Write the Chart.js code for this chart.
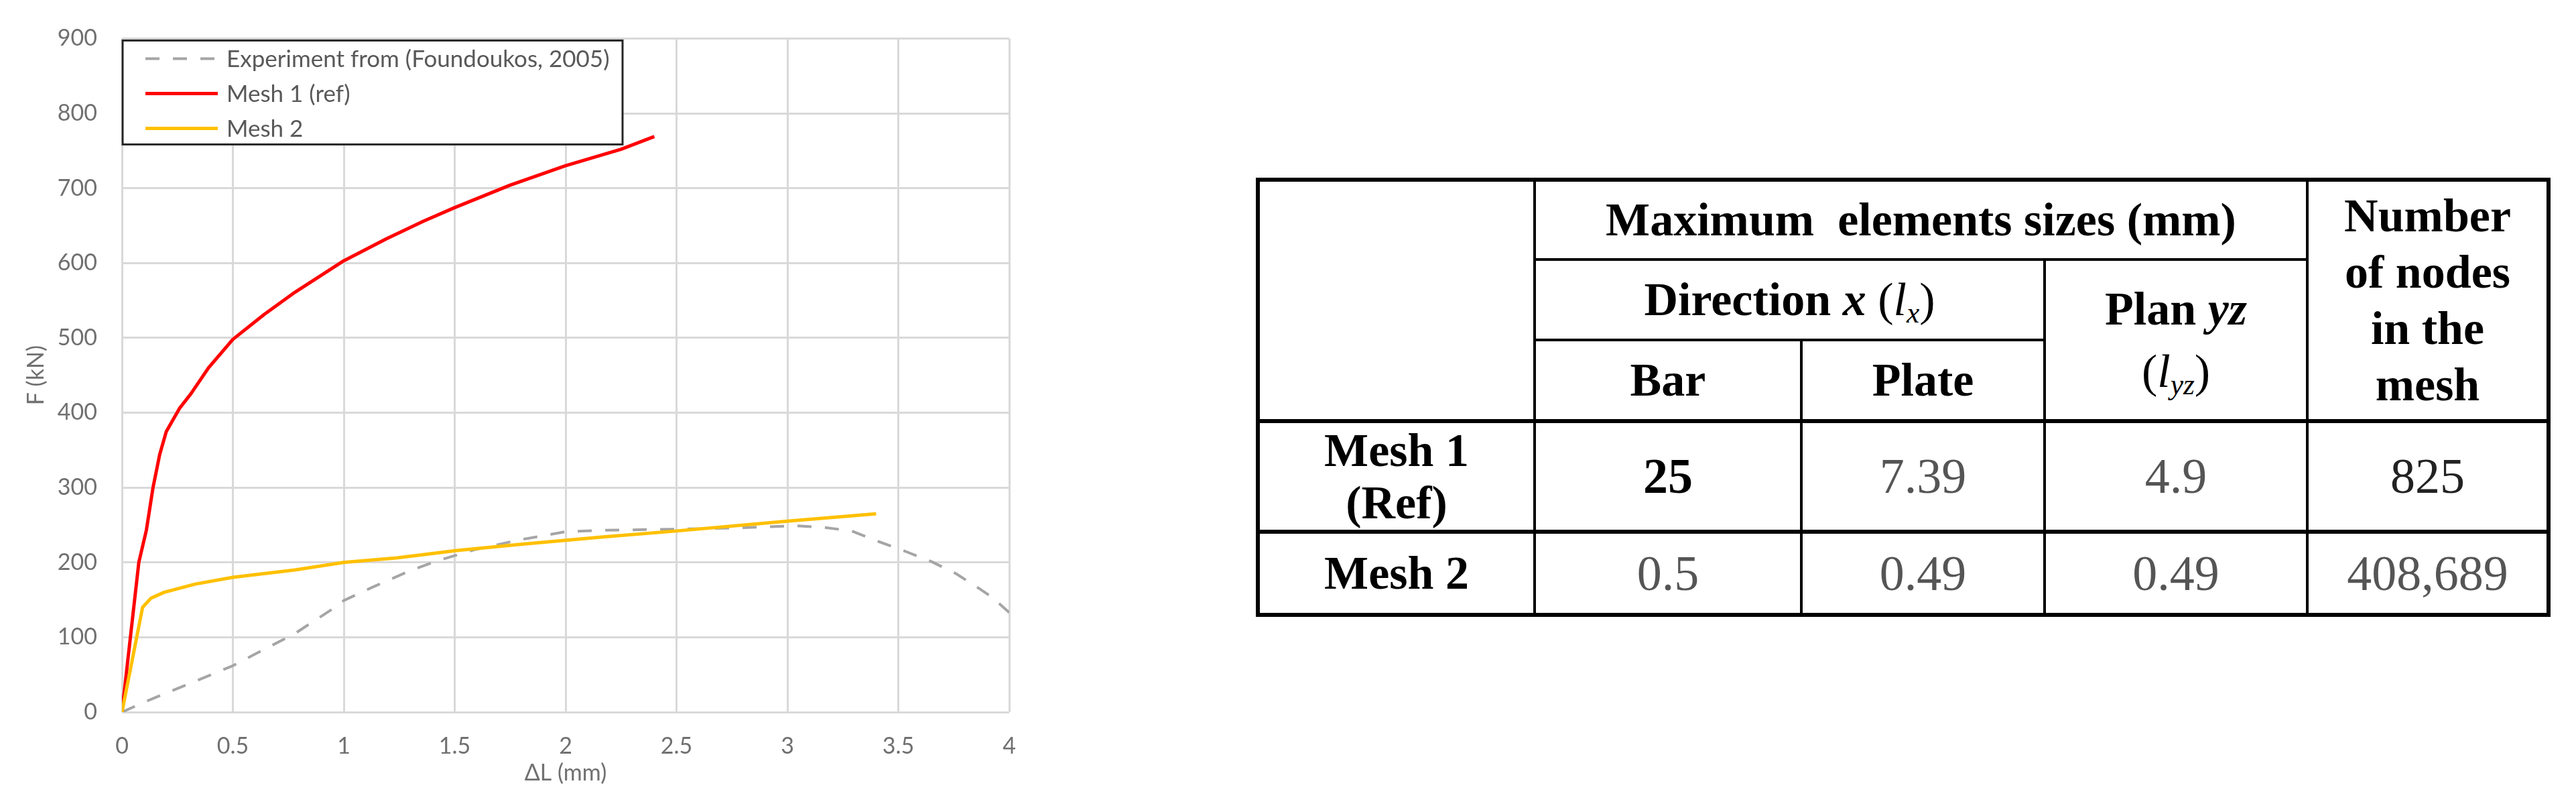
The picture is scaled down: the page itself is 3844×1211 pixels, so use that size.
<!DOCTYPE html>
<html>
<head>
<meta charset="utf-8">
<script src="https://cdn.jsdelivr.net/npm/chart.js@4/dist/chart.umd.min.js"></script>
<style>
  html, body { margin: 0; padding: 0; background: #ffffff; width: 3844px; height: 1211px; overflow: hidden; }
  #chartWrap { position: absolute; left: 0; top: 0; width: 1560px; height: 1211px; }
  #tbl { position: absolute; left: 1874px; top: 265px; width: 1932px; border-collapse: collapse; table-layout: fixed;
         font-family: "Liberation Serif", "Times New Roman", serif; color: #000; border: 6px solid #000; }
  #tbl td { border: 4px solid #000; text-align: center; vertical-align: middle; padding: 0; line-height: 1.2; }
  #tbl .h { font-weight: bold; font-size: 70px; }
  #tbl .v { font-size: 74px; color: #555; }
  #tbl .thickB td, #tbl td.thickB { border-bottom-width: 6px; }
  #tbl i.m { font-style: italic; }
  #tbl .thin { font-weight: normal; }
  #tbl sub { font-size: 0.62em; vertical-align: -0.25em; line-height: 0; }
</style>
</head>
<body>
<div id="chartWrap"><canvas id="c" width="1560" height="1211"></canvas></div>

<table id="tbl">
  <colgroup>
    <col style="width:413px"><col style="width:398px"><col style="width:363px"><col style="width:392px"><col style="width:360px">
  </colgroup>
  <tr style="height:119px">
    <td rowspan="3" class="thickB"></td>
    <td colspan="3" class="h">Maximum&nbsp; elements sizes (mm)</td>
    <td rowspan="3" class="h thickB" style="line-height:84px">Number<br>of nodes<br>in the<br>mesh</td>
  </tr>
  <tr style="height:120px">
    <td colspan="2" class="h">Direction <i class="m">x</i> <span class="thin">(<i class="m">l</i><sub><i class="m">x</i></sub>)</span></td>
    <td rowspan="2" class="h thickB" style="line-height:93px">Plan <i class="m">yz</i><br><span class="thin">(<i class="m">l</i><sub><i class="m">yz</i></sub>)</span></td>
  </tr>
  <tr style="height:121px" class="thickB">
    <td class="h">Bar</td>
    <td class="h">Plate</td>
  </tr>
  <tr style="height:165px" class="thickB">
    <td class="h" style="line-height:78px">Mesh 1<br>(Ref)</td>
    <td class="v" style="font-weight:bold;color:#000">25</td>
    <td class="v">7.39</td>
    <td class="v">4.9</td>
    <td class="v" style="color:#222">825</td>
  </tr>
  <tr style="height:124px">
    <td class="h">Mesh 2</td>
    <td class="v">0.5</td>
    <td class="v">0.49</td>
    <td class="v">0.49</td>
    <td class="v">408,689</td>
  </tr>
</table>

<script>
// ---- Data ----
const seriesNames = ["Experiment from (Foundoukos, 2005)", "Mesh 1 (ref)", "Mesh 2"];

const expX  = [0, 0.13, 0.37, 0.5, 0.61, 0.78, 0.95, 1.0, 1.13, 1.3, 1.42, 1.59, 1.79, 2.0, 2.17, 2.41, 2.77, 3.03, 3.16, 3.29, 3.41, 3.53, 3.65, 3.76, 3.86, 3.92, 4.0];
const expF  = [0, 17, 46, 62, 79, 105, 138, 149, 167, 189, 202, 217, 230, 241, 243, 244, 246, 249, 247, 242, 228, 215, 201, 185, 166, 154, 133];

const mesh1X = [0, 0.076, 0.11, 0.14, 0.17, 0.2, 0.26, 0.31, 0.39, 0.5, 0.64, 0.78, 1.0, 1.19, 1.36, 1.5, 1.75, 2.0, 2.25, 2.4];
const mesh1F = [0, 200, 243, 300, 344, 375, 406, 425, 460, 498, 531, 561, 603, 632, 656, 674, 704, 730, 752, 769];

const mesh2X = [0, 0.093, 0.13, 0.19, 0.33, 0.5, 0.78, 1.0, 1.24, 1.51, 1.79, 2.17, 2.5, 3.0, 3.4];
const mesh2F = [0, 140, 152, 160, 171, 180, 190, 200, 206, 216, 224, 234, 242, 255, 265];

const xTicks = [0, 0.5, 1, 1.5, 2, 2.5, 3, 3.5, 4];
const yTicks = [0, 100, 200, 300, 400, 500, 600, 700, 800, 900];
const xTitle = "ΔL (mm)";
const yTitle = "F (kN)";

// ---- Build ----
const pairs = (xs, ys) => xs.map((x, i) => ({ x: x, y: ys[i] }));

const boxLegend = {
  id: 'boxLegend',
  afterDraw(chart) {
    const { ctx, chartArea } = chart;
    const x0 = chartArea.left + 1, y0 = chartArea.top + 3, w = 746, h = 155;
    ctx.save();
    ctx.fillStyle = '#ffffff';
    ctx.fillRect(x0, y0, w, h);
    ctx.lineWidth = 3;
    ctx.strokeStyle = '#262626';
    ctx.strokeRect(x0, y0, w, h);
    chart.data.datasets.forEach((ds, i) => {
      const cy = y0 + 27 + i * 52;
      ctx.beginPath();
      ctx.setLineDash(ds.borderDash || []);
      ctx.lineWidth = ds.borderWidth;
      ctx.strokeStyle = ds.borderColor;
      ctx.moveTo(x0 + 34, cy);
      ctx.lineTo(x0 + 142, cy);
      ctx.stroke();
      ctx.setLineDash([]);
      ctx.fillStyle = '#595959';
      ctx.font = '35px Lato';
      ctx.textBaseline = 'middle';
      ctx.textAlign = 'left';
      ctx.fillText(ds.label, x0 + 155, cy + 1);
    });
    ctx.restore();
  }
};

const tickFont = { family: 'Lato', size: 34 };

new Chart(document.getElementById('c'), {
  type: 'scatter',
  data: {
    datasets: [
      { label: seriesNames[0], data: pairs(expX, expF), showLine: true, borderColor: '#a5a5a5', borderWidth: 4,
        borderDash: [21, 20], pointRadius: 0, order: 2 },
      { label: seriesNames[1], data: pairs(mesh1X, mesh1F), showLine: true, borderColor: '#ff0000', borderWidth: 5,
        pointRadius: 0, order: 1 },
      { label: seriesNames[2], data: pairs(mesh2X, mesh2F), showLine: true, borderColor: '#ffc000', borderWidth: 5,
        pointRadius: 0, order: 0 }
    ]
  },
  options: {
    responsive: false,
    animation: false,
    devicePixelRatio: 1,
    layout: { padding: { left: 0, top: 55, right: 54, bottom: 0 } },
    plugins: { legend: { display: false }, tooltip: { enabled: false } },
    elements: { line: { tension: 0, borderCapStyle: 'butt', borderJoinStyle: 'round' } },
    scales: {
      x: {
        type: 'linear', min: 0, max: 4,
        afterBuildTicks: s => { s.ticks = xTicks.map(v => ({ value: v })); },
        afterFit: s => { s.height = 149; },
        ticks: { color: '#707070', font: tickFont, padding: 31, maxRotation: 0, autoSkip: false,
                 callback: v => String(v) },
        grid: { color: '#d9d9d9', lineWidth: 3, drawTicks: false },
        border: { display: false },
        title: { display: true, text: xTitle, color: '#707070', font: tickFont, padding: { top: 0, bottom: 38 } }
      },
      y: {
        type: 'linear', min: 0, max: 900,
        afterBuildTicks: s => { s.ticks = yTicks.map(v => ({ value: v })); },
        afterFit: s => { s.width = 182; },
        ticks: { color: '#707070', font: tickFont, padding: 37, autoSkip: false, callback: v => String(v) },
        grid: { color: '#d9d9d9', lineWidth: 3, drawTicks: false },
        border: { display: false },
        title: { display: true, text: yTitle, color: '#707070', font: tickFont, padding: { top: 34, bottom: 0 } }
      }
    }
  },
  plugins: [boxLegend]
});
</script>
</body>
</html>
